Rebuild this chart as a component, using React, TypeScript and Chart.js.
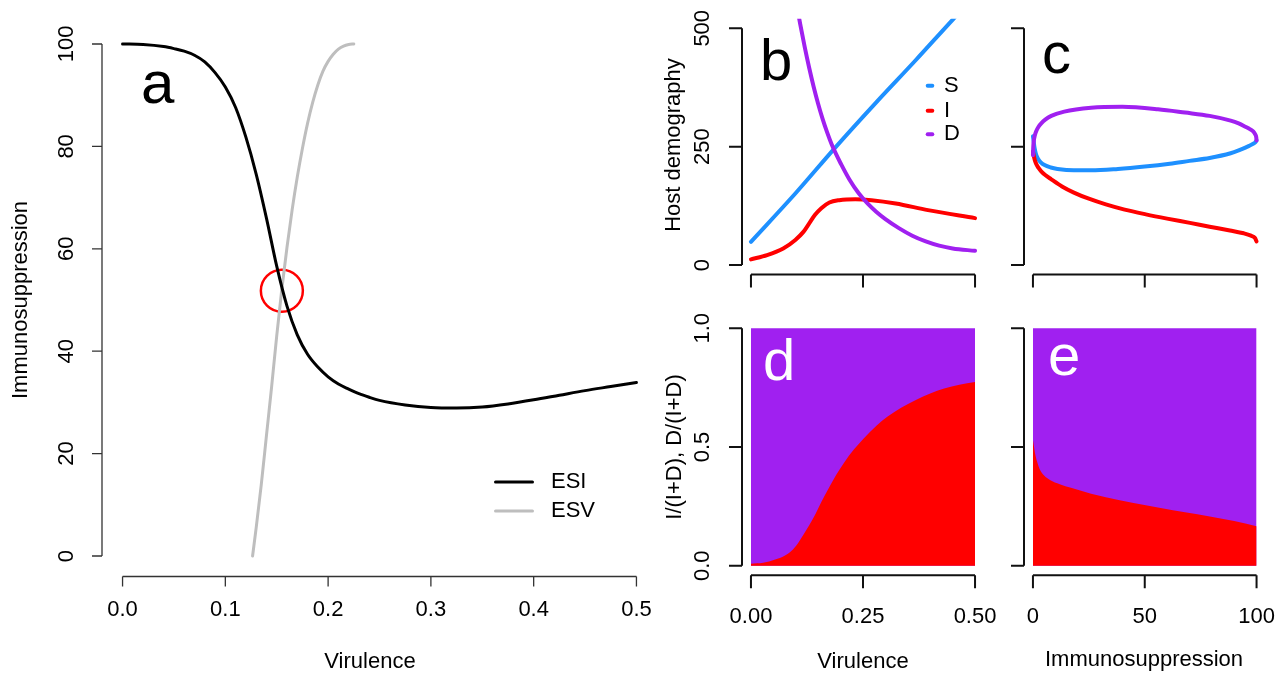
import { useEffect, useRef } from "react";
import { Chart, registerables } from "chart.js";
Chart.register(...registerables);

const W = 1288;
const H = 675;
const FONT = "'Liberation Sans', Arial, Helvetica, sans-serif";

const PURPLE = "#A020F0";
const RED = "#FF0000";
const BLUE = "#1E90FF";
const GREY = "#BEBEBE";

// ---------- Panel a : ESI / ESV vs virulence ----------
const esiVirulence = [0, 0.02, 0.04, 0.05, 0.06, 0.07, 0.08, 0.09, 0.1, 0.11, 0.12, 0.13, 0.14, 0.15, 0.16, 0.17, 0.18, 0.19, 0.2, 0.21, 0.22, 0.23, 0.24, 0.25, 0.275, 0.3, 0.325, 0.35, 0.375, 0.4, 0.425, 0.45, 0.475, 0.5];
const esiValues = [100, 99.9, 99.5, 99.1, 98.6, 97.8, 96.5, 94.4, 91.6, 87.6, 81.8, 74.6, 66.0, 56.6, 48.8, 43.2, 39.4, 36.9, 35.0, 33.6, 32.6, 31.7, 31.0, 30.4, 29.5, 29.0, 28.9, 29.1, 29.7, 30.5, 31.4, 32.3, 33.1, 33.9];
const esvVirulence = [0.1265, 0.13, 0.135, 0.14, 0.145, 0.15, 0.155, 0.16, 0.165, 0.17, 0.175, 0.18, 0.185, 0.19, 0.195, 0.2, 0.205, 0.21, 0.215, 0.22, 0.225];
const esvValues = [0, 5.5, 14, 23.5, 33, 43, 52.2, 60.3, 67.6, 74, 79.6, 84.5, 88.6, 92, 94.7, 96.6, 98, 99, 99.6, 99.9, 100];
const crossVirulence = [0.155];
const crossImmuno = [51.8];
const aXTicks = [0, 0.1, 0.2, 0.3, 0.4, 0.5];
const aXTickLabels = ["0.0", "0.1", "0.2", "0.3", "0.4", "0.5"];
const aYTicks = [0, 20, 40, 60, 80, 100];
const aYTickLabels = ["0", "20", "40", "60", "80", "100"];

// ---------- Panel b : host demography vs virulence ----------
const bVirS = [0, 0.099, 0.188, 0.278, 0.368, 0.453, 0.5];
const bS = [49, 151, 248, 342, 433, 521, 568];
const bVirI = [0, 0.036, 0.072, 0.099, 0.117, 0.13, 0.143, 0.157, 0.175, 0.197, 0.233, 0.269, 0.323, 0.395, 0.5];
const bI = [12, 21, 35, 53, 70, 88, 106, 120, 132, 137, 139, 137, 130, 116, 99];
const bVirD = [0.09, 0.1, 0.11, 0.12, 0.13, 0.14, 0.15, 0.16, 0.17, 0.18, 0.19, 0.2, 0.22, 0.24, 0.26, 0.28, 0.3, 0.33, 0.36, 0.39, 0.42, 0.45, 0.5];
const bD = [616, 560, 508, 460, 416, 376, 340, 308, 280, 255, 234, 215, 180, 152, 130, 112, 97, 78, 62, 50, 41, 35, 30];
const bXTicks = [0, 0.25, 0.5];
const bYTicks = [0, 250, 500];
const bYTickLabels = ["0", "250", "500"];

// ---------- Panel c : host demography vs immunosuppression ----------
const cImmS = [0, 0.3, 0.7, 1.3, 2.2, 3.5, 5.2, 8, 11, 18.3, 26, 38, 50, 61.2, 70, 79, 88.4, 92, 95, 97, 98.5, 99.4, 100];
const cS = [272, 262, 248, 235, 225, 217, 211, 206, 203, 200, 200, 203, 208, 214, 220, 226, 236, 242, 248, 252.5, 256, 259, 263];
const cImmI = [0, 0.3, 0.8, 1.5, 2.5, 3.7, 5.5, 8.2, 13, 18.3, 25, 32.6, 41, 50.5, 60, 70.2, 79, 88.1, 94.3, 97.5, 99.3, 100];
const cI = [240, 232, 222, 213, 205, 198, 190, 181, 166, 153, 140, 128, 117, 107, 98, 89, 81, 73, 67, 62, 57, 50];
const cImmD = [0, 0.15, 0.4, 0.8, 1.5, 2.5, 3.7, 5.5, 8.2, 14, 26, 40, 55.9, 68, 79, 88.4, 92, 95, 97, 98.5, 99.4, 99.85, 100];
const cD = [232, 250, 263, 273, 283, 292, 299, 307, 315, 324, 332, 334, 329, 322, 315, 305, 299, 292, 287, 282, 276, 270, 263];
const cXTicks = [0, 50, 100];
const cYTicks = [0, 250, 500];

// ---------- Panel d : I/(I+D) vs virulence ----------
const dVir = [0, 0.027, 0.054, 0.075, 0.09, 0.105, 0.117, 0.13, 0.144, 0.157, 0.171, 0.19, 0.207, 0.23, 0.251, 0.28, 0.305, 0.335, 0.368, 0.4, 0.431, 0.465, 0.5];
const dFrac = [0.008, 0.012, 0.026, 0.042, 0.062, 0.095, 0.13, 0.17, 0.218, 0.268, 0.318, 0.382, 0.432, 0.49, 0.535, 0.59, 0.628, 0.665, 0.698, 0.725, 0.746, 0.762, 0.774];
const dXTicks = [0, 0.25, 0.5];
const dXTickLabels = ["0.00", "0.25", "0.50"];
const dYTicks = [0, 0.5, 1];
const dYTickLabels = ["0.0", "0.5", "1.0"];

// ---------- Panel e : I/(I+D) vs immunosuppression ----------
const eImm = [0, 0.5, 0.95, 1.8, 3.2, 5, 7.6, 12, 17, 26, 32.6, 45, 55.9, 68, 79.1, 90, 100];
const eFrac = [0.53, 0.5, 0.473, 0.44, 0.403, 0.38, 0.361, 0.343, 0.328, 0.303, 0.288, 0.264, 0.245, 0.225, 0.207, 0.188, 0.166];
const eXTicks = [0, 50, 100];
const eXTickLabels = ["0", "50", "100"];
const eYTicks = [0, 0.5, 1];

const pts = (xs: number[], ys: number[]) => xs.map((x, i) => ({ x, y: ys[i] }));

type TextSpec = { text: string; x: number; y: number; size: number; color?: string; rotate?: boolean; align?: CanvasTextAlign; baseline?: CanvasTextBaseline };
type RSpec = {
  axisColor: string;
  axisWidth: number;
  tickLen: number;
  fontSize: number;
  x?: { ticks: number[]; labels?: string[]; labelDist: number };
  y?: { ticks: number[]; labels?: string[]; labelDist: number };
  texts?: TextSpec[];
  legend?: { x1: number; x2: number; textX: number; ys: number[]; items: number[]; lineWidth: number; size: number };
};

function makeRPlugin(spec: RSpec) {
  return {
    id: "rAxes",
    afterDraw(chart: any) {
      const ctx: CanvasRenderingContext2D = chart.ctx;
      const { left, bottom } = chart.chartArea;
      const xs = chart.scales.x;
      const ys = chart.scales.y;
      ctx.save();
      ctx.strokeStyle = spec.axisColor;
      ctx.lineWidth = spec.axisWidth;
      ctx.lineCap = "butt";
      ctx.fillStyle = "#000";
      ctx.font = `${spec.fontSize}px ${FONT}`;
      if (spec.x) {
        const px = spec.x.ticks.map((t) => xs.getPixelForValue(t));
        ctx.beginPath();
        ctx.moveTo(px[0], bottom);
        ctx.lineTo(px[px.length - 1], bottom);
        for (const p of px) {
          ctx.moveTo(p, bottom);
          ctx.lineTo(p, bottom + spec.tickLen);
        }
        ctx.stroke();
        if (spec.x.labels) {
          ctx.textAlign = "center";
          ctx.textBaseline = "middle";
          spec.x.labels.forEach((l, i) => ctx.fillText(l, px[i], bottom + spec.x!.labelDist));
        }
      }
      if (spec.y) {
        const py = spec.y.ticks.map((t) => ys.getPixelForValue(t));
        ctx.beginPath();
        ctx.moveTo(left, py[0]);
        ctx.lineTo(left, py[py.length - 1]);
        for (const p of py) {
          ctx.moveTo(left, p);
          ctx.lineTo(left - spec.tickLen, p);
        }
        ctx.stroke();
        if (spec.y.labels) {
          ctx.textAlign = "center";
          ctx.textBaseline = "middle";
          spec.y.labels.forEach((l, i) => {
            ctx.save();
            ctx.translate(left - spec.y!.labelDist, py[i]);
            ctx.rotate(-Math.PI / 2);
            ctx.fillText(l, 0, 0);
            ctx.restore();
          });
        }
      }
      for (const t of spec.texts || []) {
        ctx.save();
        ctx.font = `${t.size}px ${FONT}`;
        ctx.fillStyle = t.color || "#000";
        ctx.textAlign = t.align || "center";
        ctx.textBaseline = t.baseline || "middle";
        ctx.translate(t.x, t.y);
        if (t.rotate) ctx.rotate(-Math.PI / 2);
        ctx.fillText(t.text, 0, 0);
        ctx.restore();
      }
      if (spec.legend) {
        const lg = spec.legend;
        lg.items.forEach((di, i) => {
          const ds = chart.data.datasets[di];
          ctx.save();
          ctx.strokeStyle = ds.borderColor;
          ctx.lineWidth = lg.lineWidth;
          ctx.lineCap = "round";
          ctx.beginPath();
          ctx.moveTo(lg.x1, lg.ys[i]);
          ctx.lineTo(lg.x2, lg.ys[i]);
          ctx.stroke();
          ctx.fillStyle = "#000";
          ctx.font = `${lg.size}px ${FONT}`;
          ctx.textAlign = "left";
          ctx.textBaseline = "middle";
          ctx.fillText(ds.label, lg.textX, lg.ys[i]);
          ctx.restore();
        });
      }
      ctx.restore();
    },
  };
}

type Area = { left: number; top: number; right: number; bottom: number };

function baseConfig(area: Area, xr: [number, number], yr: [number, number], datasets: any[], spec: RSpec) {
  return {
    type: "line",
    data: { datasets },
    options: {
      animation: false,
      responsive: false,
      devicePixelRatio: 1,
      events: [],
      layout: { padding: { left: area.left, top: area.top, right: W - area.right, bottom: H - area.bottom } },
      scales: {
        x: { type: "linear", min: xr[0], max: xr[1], display: false },
        y: { type: "linear", min: yr[0], max: yr[1], display: false },
      },
      plugins: { legend: { display: false }, tooltip: { enabled: false } },
    },
    plugins: [makeRPlugin(spec)],
  };
}

const lineDs = (label: string, data: any[], color: string, width: number) => ({
  label,
  data,
  borderColor: color,
  backgroundColor: color,
  borderWidth: width,
  pointRadius: 0,
  fill: false,
  cubicInterpolationMode: "monotone",
  borderCapStyle: "round",
  borderJoinStyle: "round",
});

const AREA_A: Area = { left: 102, top: 23.5, right: 657, bottom: 576.5 };
const AREA_B: Area = { left: 742, top: 18.8, right: 984, bottom: 274.5 };
const AREA_C: Area = { left: 1024, top: 18.8, right: 1265.5, bottom: 274.5 };
const AREA_D: Area = { left: 742, top: 318.8, right: 984, bottom: 575.2 };
const AREA_E: Area = { left: 1024, top: 318.8, right: 1265.5, bottom: 575.2 };

const makers: (() => any)[] = [
  // a
  () =>
    baseConfig(
      AREA_A,
      [-0.02, 0.52],
      [-4, 104],
      [
        lineDs("ESI", pts(esiVirulence, esiValues), "#000000", 3),
        lineDs("ESV", pts(esvVirulence, esvValues), GREY, 3),
        {
          label: "crossing",
          data: pts(crossVirulence, crossImmuno),
          showLine: false,
          pointRadius: 21,
          pointBorderWidth: 2.5,
          pointBorderColor: RED,
          pointBackgroundColor: "rgba(0,0,0,0)",
        },
      ],
      {
        axisColor: "#333",
        axisWidth: 1.3,
        tickLen: 10,
        fontSize: 22,
        x: { ticks: aXTicks, labels: aXTickLabels, labelDist: 33.5 },
        y: { ticks: aYTicks, labels: aYTickLabels, labelDist: 35 },
        texts: [
          { text: "Virulence", x: 370, y: 661.5, size: 22 },
          { text: "Immunosuppression", x: 21, y: 300, size: 22, rotate: true },
          { text: "a", x: 141, y: 103, size: 60, align: "left", baseline: "alphabetic" },
        ],
        legend: { x1: 495.5, x2: 532.5, textX: 551, ys: [482, 511], items: [0, 1], lineWidth: 3, size: 22 },
      }
    ),
  // b  (D drawn on top, then I, then S)
  () =>
    baseConfig(
      AREA_B,
      [-0.02, 0.52],
      [-20, 520],
      [
        lineDs("D", pts(bVirD, bD), PURPLE, 4),
        lineDs("I", pts(bVirI, bI), RED, 4),
        lineDs("S", pts(bVirS, bS), BLUE, 4),
      ],
      {
        axisColor: "#111",
        axisWidth: 2,
        tickLen: 13,
        fontSize: 22,
        x: { ticks: bXTicks, labelDist: 0 },
        y: { ticks: bYTicks, labels: bYTickLabels, labelDist: 39 },
        texts: [
          { text: "Host demography", x: 674, y: 145, size: 22, rotate: true },
          { text: "b", x: 760, y: 80, size: 58, align: "left", baseline: "alphabetic" },
        ],
        legend: { x1: 927.7, x2: 932.3, textX: 944, ys: [85.7, 110.7, 134.3], items: [2, 1, 0], lineWidth: 4, size: 22 },
      }
    ),
  // c
  () =>
    baseConfig(
      AREA_C,
      [-4, 104],
      [-20, 520],
      [
        lineDs("D", pts(cImmD, cD), PURPLE, 4),
        lineDs("I", pts(cImmI, cI), RED, 4),
        lineDs("S", pts(cImmS, cS), BLUE, 4),
      ],
      {
        axisColor: "#111",
        axisWidth: 2,
        tickLen: 13,
        fontSize: 22,
        x: { ticks: cXTicks, labelDist: 0 },
        y: { ticks: cYTicks, labelDist: 0 },
        texts: [{ text: "c", x: 1042, y: 73, size: 58, align: "left", baseline: "alphabetic" }],
      }
    ),
  // d
  () =>
    baseConfig(
      AREA_D,
      [-0.02, 0.52],
      [-0.04, 1.04],
      [
        { label: "I/(I+D)", data: pts(dVir, dFrac), borderWidth: 0, pointRadius: 0, fill: "origin", backgroundColor: RED, borderColor: RED, cubicInterpolationMode: "monotone" },
        { label: "D/(I+D)", data: pts([dVir[0], dVir[dVir.length - 1]], [1, 1]), borderWidth: 0, pointRadius: 0, fill: "origin", backgroundColor: PURPLE, borderColor: PURPLE },
      ],
      {
        axisColor: "#111",
        axisWidth: 2,
        tickLen: 13,
        fontSize: 22,
        x: { ticks: dXTicks, labels: dXTickLabels, labelDist: 41.5 },
        y: { ticks: dYTicks, labels: dYTickLabels, labelDist: 39 },
        texts: [
          { text: "Virulence", x: 863, y: 661.5, size: 22 },
          { text: "I/(I+D), D/(I+D)", x: 675, y: 447, size: 22, rotate: true },
          { text: "d", x: 763, y: 380, size: 58, align: "left", baseline: "alphabetic", color: "#fff" },
        ],
      }
    ),
  // e
  () =>
    baseConfig(
      AREA_E,
      [-4, 104],
      [-0.04, 1.04],
      [
        { label: "I/(I+D)", data: pts(eImm, eFrac), borderWidth: 0, pointRadius: 0, fill: "origin", backgroundColor: RED, borderColor: RED, cubicInterpolationMode: "monotone" },
        { label: "D/(I+D)", data: pts([eImm[0], eImm[eImm.length - 1]], [1, 1]), borderWidth: 0, pointRadius: 0, fill: "origin", backgroundColor: PURPLE, borderColor: PURPLE },
      ],
      {
        axisColor: "#111",
        axisWidth: 2,
        tickLen: 13,
        fontSize: 22,
        x: { ticks: eXTicks, labels: eXTickLabels, labelDist: 41.5 },
        y: { ticks: eYTicks, labelDist: 0 },
        texts: [
          { text: "Immunosuppression", x: 1144, y: 660, size: 22 },
          { text: "e", x: 1048, y: 375, size: 58, align: "left", baseline: "alphabetic", color: "#fff" },
        ],
      }
    ),
];

function Panel({ make }: { make: () => any }) {
  const ref = useRef<HTMLCanvasElement>(null);
  useEffect(() => {
    if (!ref.current) return;
    const chart = new Chart(ref.current, make());
    return () => chart.destroy();
  }, [make]);
  return (
    <canvas
      ref={ref}
      width={W}
      height={H}
      style={{ position: "absolute", left: 0, top: 0, width: W, height: H, display: "block" }}
    />
  );
}

export default function App() {
  return (
    <div style={{ position: "absolute", left: 0, top: 0, width: W, height: H, background: "#fff", overflow: "hidden" }}>
      {makers.map((m, i) => (
        <Panel key={i} make={m} />
      ))}
    </div>
  );
}
